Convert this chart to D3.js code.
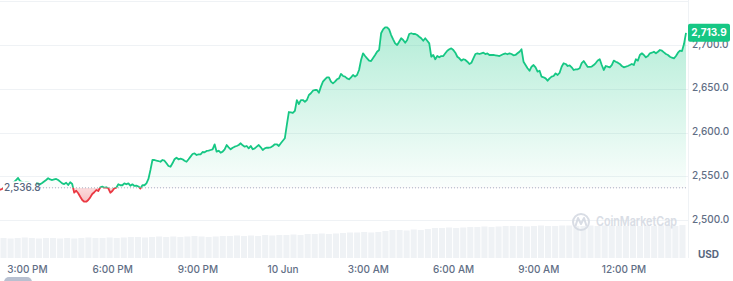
<!DOCTYPE html>
<html><head><meta charset="utf-8"/>
<title>Price chart</title>
<script src="https://d3js.org/d3.v7.min.js"></script>
<style>
  body { margin: 0; padding: 0; background: #fff; width: 733px; height: 281px; overflow: hidden; }
  svg { display: block; font-family: 'Inter', 'Noto Sans', sans-serif; }
</style>
</head>
<body>
<div id="chart"></div>
<script>
// window of the chart (evenly spaced observations between these two instants)
const startTime = new Date(2025, 5, 9, 14, 2);
const endTime = new Date(2025, 5, 10, 14, 11);
const openPrice = 2536.8;
const lastPrice = 2713.9;

// price, USD
const prices = [
  2534.3, 2535.4, 2537.7, 2540.0, 2541.1, 2542.3, 2542.3, 2543.4, 2545.7, 2548.0,
  2544.6, 2543.4, 2542.3, 2543.4, 2542.9, 2542.3, 2542.3, 2541.7, 2541.9,
  2541.7, 2540.8, 2542.3, 2544.0, 2545.7, 2547.7, 2546.3, 2545.7, 2546.5, 2546.9,
  2545.7, 2543.8, 2541.9, 2541.1, 2542.6, 2540.0, 2543.1, 2541.1, 2531.2, 2533.5,
  2530.5, 2526.6, 2522.9, 2520.9, 2520.9, 2522.9, 2525.9, 2529.7, 2531.7, 2534.3,
  2533.1, 2537.4, 2538.1, 2536.9, 2537.4, 2536.2, 2531.2, 2533.1, 2536.2, 2536.9,
  2540.8, 2539.7, 2539.7, 2541.9, 2540.8, 2541.9, 2539.2, 2540.8, 2538.9, 2539.2,
  2538.3, 2536.0, 2539.7, 2539.7, 2541.9, 2546.9, 2557.1,
  2568.6, 2568.6, 2567.8, 2567.4, 2566.6, 2568.6, 2567.8, 2564.8, 2561.7, 2560.9,
  2564.8, 2569.4, 2571.2, 2569.4, 2570.1, 2569.4, 2567.8, 2566.6, 2569.4, 2572.4,
  2575.4, 2576.2, 2574.3, 2575.1, 2575.1, 2577.7, 2577.4, 2578.9, 2579.2, 2580.0,
  2580.8, 2586.5, 2578.1, 2579.2, 2576.9, 2578.1, 2580.8, 2585.7, 2583.1, 2580.8,
  2582.6, 2583.8, 2584.6, 2585.7, 2587.7, 2585.4, 2583.8, 2584.6, 2581.9, 2584.6,
  2580.8, 2581.9, 2583.8, 2585.7, 2583.1, 2580.0, 2581.9, 2582.6, 2582.6, 2583.1,
  2584.6, 2586.5, 2586.5, 2584.6, 2587.7, 2590.6, 2593.4, 2608.6,
  2623.4, 2622.9, 2622.3, 2624.6, 2637.1, 2632.6, 2637.1, 2637.1, 2635.2, 2637.1,
  2642.9, 2644.8, 2647.8, 2648.6, 2648.6, 2645.5, 2652.4, 2658.1, 2660.8, 2663.1,
  2663.1, 2658.1, 2656.2, 2658.1, 2660.8, 2661.9, 2666.9, 2664.6, 2663.8, 2661.9,
  2660.8, 2663.1, 2665.7, 2663.8, 2665.7, 2671.4, 2682.9, 2690.5, 2687.4, 2684.8,
  2682.1, 2681.7, 2685.1, 2688.6, 2692.3, 2694.3, 2713.4, 2717.9, 2720.2, 2720.2,
  2717.9, 2711.4, 2706.5, 2701.9, 2700.0, 2703.8, 2707.7, 2705.7, 2702.6, 2705.7,
  2712.6, 2713.4, 2712.6, 2712.6, 2711.4, 2709.5, 2707.7, 2704.9, 2707.7, 2704.9,
  2701.9, 2686.6, 2688.6, 2683.7, 2687.4, 2685.9, 2687.4, 2687.4, 2690.5, 2693.5,
  2695.1, 2696.2, 2694.3, 2691.2, 2686.6, 2684.8, 2682.1, 2683.7, 2682.9, 2680.9,
  2678.3, 2679.7, 2684.8, 2689.7, 2690.5, 2689.7, 2690.5, 2691.2, 2689.7, 2690.3,
  2688.6, 2688.6, 2688.6, 2688.2, 2687.8, 2687.4, 2688.6, 2689.7, 2690.3, 2689.4,
  2690.5, 2689.7, 2688.2, 2688.6, 2690.5, 2692.3, 2695.1, 2680.9, 2677.1, 2673.4,
  2670.6, 2675.2, 2677.1, 2674.5, 2669.5, 2670.6, 2663.8, 2663.1, 2661.9, 2659.2,
  2661.9, 2663.8, 2664.6, 2667.6, 2665.7, 2668.3, 2675.2, 2679.1, 2678.3, 2676.0,
  2676.8, 2674.5, 2671.4, 2672.2, 2672.2, 2673.4, 2679.4, 2681.7, 2678.3, 2674.9,
  2674.9, 2675.4, 2677.1, 2679.4, 2682.3, 2683.7, 2677.1, 2671.4, 2676.0, 2675.2,
  2674.5, 2677.1, 2682.1, 2680.9, 2679.8, 2678.3, 2676.0, 2674.5, 2675.2, 2676.0,
  2677.1, 2678.3, 2677.1, 2683.7, 2682.1, 2688.6, 2690.5, 2688.6, 2685.9, 2687.4,
  2690.5, 2691.2, 2692.3, 2690.5, 2692.3, 2694.3, 2693.5, 2691.6, 2689.7, 2688.6,
  2686.6, 2685.5, 2684.8, 2687.4, 2691.2, 2693.5, 2693.1, 2701.1, 2713.9
];

// volume (billions USD), 15-minute bars over the same window
const volumes = [
  20, 19.5, 20, 20.5, 20, 19.5, 20, 20,
  19.5, 20, 19.5, 20, 20.5, 20, 20,
  20.5, 20, 20.5, 21, 21, 20.5, 21, 21.5,
  21, 21.5, 21, 21.5, 22, 21.5, 21, 21.5, 22, 22, 22.5,
  22, 22.5, 22, 23, 22.5, 23, 23, 23.5, 23,
  24, 24, 24.5, 24, 24.5, 25,
  25.5, 25.5, 26, 25.5, 26, 27,
  28, 28, 27.5, 28.5, 28,
  29, 30, 30, 30.5, 30, 30.5, 31, 31, 31.5, 31,
  31.5, 32, 32, 32, 31.5, 32, 32.5, 32, 32, 32.5, 32.5, 32, 32, 32.5,
  32, 32.5, 32.5, 32, 32, 32.5, 32, 32.5, 32, 32.5, 32.5, 32, 33
];

const priceTicks = [2500, 2550, 2600, 2650, 2700, 2750];

const W = 733, H = 281;
const plotRight = 688;
const green = "#16c784", red = "#ea3943";

const svg = d3.select("#chart").append("svg").attr("width", W).attr("height", H);
const defs = svg.append("defs");

const x = d3.scaleTime().domain([startTime, endTime]).range([0, 686]);
const y = d3.scaleLinear().domain([2500, 2750]).range([220, 1.25]);
const yVol = d3.scaleLinear().domain([0, 36]).range([258, 222]);

const stepP = (endTime - startTime) / (prices.length - 1);
const series = prices.map((p, i) => ({ t: new Date(+startTime + i * stepP), p }));
const stepV = (endTime - startTime) / volumes.length;
const volData = volumes.map((v, i) => ({ t: new Date(+startTime + i * stepV), v }));

const baseY = y(openPrice);

// grid
svg.append("g").selectAll("line").data(priceTicks).join("line")
  .attr("x1", 0).attr("x2", plotRight)
  .attr("y1", d => Math.round(y(d)) + 0.5).attr("y2", d => Math.round(y(d)) + 0.5)
  .attr("stroke", "#eff2f5").attr("stroke-width", 1);

// volume bars
const barW = x(new Date(+startTime + stepV)) - x(startTime);
svg.append("g").selectAll("rect").data(volData).join("rect")
  .attr("x", d => x(d.t) + 0.5)
  .attr("width", barW - 1)
  .attr("y", d => yVol(d.v))
  .attr("height", d => yVol(0) - yVol(d.v))
  .attr("fill", "#eff2f5");

svg.append("line")
  .attr("x1", plotRight + 0.5).attr("x2", plotRight + 0.5)
  .attr("y1", 0).attr("y2", 258)
  .attr("stroke", "#eff2f5");

// gradients
const gUp = defs.append("linearGradient").attr("id", "gUp")
  .attr("gradientUnits", "userSpaceOnUse")
  .attr("x1", 0).attr("x2", 0).attr("y1", y(d3.max(prices))).attr("y2", baseY);
gUp.append("stop").attr("offset", 0).attr("stop-color", green).attr("stop-opacity", 0.32);
gUp.append("stop").attr("offset", 1).attr("stop-color", green).attr("stop-opacity", 0.02);

const gDn = defs.append("linearGradient").attr("id", "gDn")
  .attr("gradientUnits", "userSpaceOnUse")
  .attr("x1", 0).attr("x2", 0).attr("y1", baseY).attr("y2", y(d3.min(prices)));
gDn.append("stop").attr("offset", 0).attr("stop-color", red).attr("stop-opacity", 0.18);
gDn.append("stop").attr("offset", 1).attr("stop-color", red).attr("stop-opacity", 0.32);

defs.append("clipPath").attr("id", "clipUp").append("rect")
  .attr("x", -5).attr("y", -5).attr("width", plotRight + 10).attr("height", baseY + 5);
defs.append("clipPath").attr("id", "clipDn").append("rect")
  .attr("x", -5).attr("y", baseY).attr("width", plotRight + 10).attr("height", H);

const area = d3.area().x(d => x(d.t)).y0(baseY).y1(d => y(d.p));
const line = d3.line().x(d => x(d.t)).y(d => y(d.p));

svg.append("path").datum(series).attr("d", area)
  .attr("fill", "url(#gUp)").attr("clip-path", "url(#clipUp)");
svg.append("path").datum(series).attr("d", area)
  .attr("fill", "url(#gDn)").attr("clip-path", "url(#clipDn)");

// baseline (open price)
svg.append("line")
  .attr("x1", 37).attr("x2", plotRight)
  .attr("y1", baseY).attr("y2", baseY)
  .attr("stroke", "#a6b0c3").attr("stroke-width", 1).attr("stroke-dasharray", "1 2");

svg.append("path").datum(series).attr("d", line)
  .attr("fill", "none").attr("stroke", green).attr("stroke-width", 1.8)
  .attr("stroke-linejoin", "round").attr("clip-path", "url(#clipUp)");
svg.append("path").datum(series).attr("d", line)
  .attr("fill", "none").attr("stroke", red).attr("stroke-width", 1.8)
  .attr("stroke-linejoin", "round").attr("clip-path", "url(#clipDn)");

// open price label
svg.append("rect").attr("x", 3).attr("y", baseY - 6.5).attr("width", 33).attr("height", 13).attr("fill", "#fff");
svg.append("text").attr("x", 4).attr("y", baseY + 0.5)
  .attr("dominant-baseline", "middle")
  .attr("font-size", 10).attr("font-weight", 500).attr("fill", "#58667e")
  .text(d3.format(",.1f")(openPrice));

// y axis labels
svg.append("g").selectAll("text").data(priceTicks.filter(d => d <= 2700)).join("text")
  .attr("x", 692).attr("y", d => y(d))
  .attr("dominant-baseline", "middle")
  .attr("font-size", 10).attr("font-weight", 500).attr("fill", "#616e85")
  .text(d => d3.format(",.1f")(d));

svg.append("text").attr("x", 698).attr("y", 255)
  .attr("dominant-baseline", "middle")
  .attr("font-size", 10).attr("font-weight", 700).attr("fill", "#58667e")
  .text("USD");

// current price tag
const lastY = y(lastPrice);
svg.append("rect").attr("x", 688).attr("y", lastY - 9).attr("width", 42).attr("height", 18)
  .attr("rx", 2).attr("fill", green);
svg.append("text").attr("x", 709).attr("y", lastY + 0.5)
  .attr("text-anchor", "middle").attr("dominant-baseline", "middle")
  .attr("font-size", 10).attr("font-weight", 700).attr("fill", "#fff")
  .text(d3.format(",.1f")(lastPrice));

// x axis labels
const fmtTick = d => d.getHours() === 0 ? d3.timeFormat("%-d %b")(d) : d3.timeFormat("%-I:%M %p")(d);
svg.append("g").selectAll("text").data(x.ticks(d3.timeHour.every(3))).join("text")
  .attr("x", d => x(d)).attr("y", 270)
  .attr("text-anchor", "middle").attr("dominant-baseline", "middle")
  .attr("font-size", 10).attr("font-weight", 500).attr("fill", "#616e85")
  .text(fmtTick);

// watermark
const wm = svg.append("g").attr("opacity", 0.9);
wm.append("circle").attr("cx", 581).attr("cy", 222).attr("r", 8)
  .attr("fill", "none").attr("stroke", "#d5dae3").attr("stroke-width", 2);
wm.append("path").attr("d", "M575.5,226 L578,218 L581,224 L584,218 L586.5,226")
  .attr("fill", "none").attr("stroke", "#d5dae3").attr("stroke-width", 2).attr("stroke-linejoin", "round");
wm.append("text").attr("x", 596).attr("y", 222.5)
  .attr("dominant-baseline", "middle")
  .attr("font-size", 13).attr("font-weight", 600).attr("fill", "#d5dae3")
  .attr("textLength", 81).attr("lengthAdjust", "spacingAndGlyphs")
  .text("CoinMarketCap");

// scroll handle
svg.append("rect").attr("x", 4).attr("y", 277).attr("width", 28).attr("height", 10)
  .attr("rx", 5).attr("fill", "#b8c0d0");
</script>
</body></html>
